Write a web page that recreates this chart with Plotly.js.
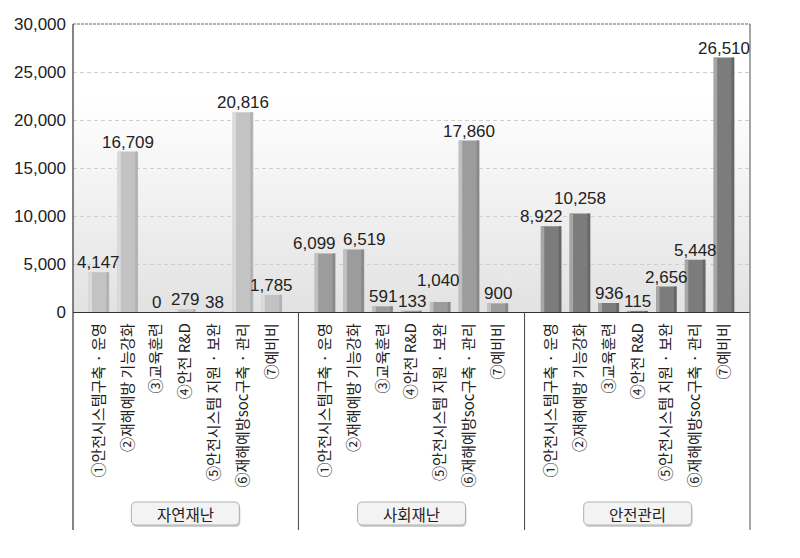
<!DOCTYPE html>
<html>
<head>
<meta charset="utf-8">
<script src="https://cdn.plot.ly/plotly-3.0.1.min.js"></script>
<style>html,body{margin:0;padding:0;background:#fff;}#chart{width:800px;height:558px;}</style>
</head>
<body>
<div id="chart"></div>
<script>
// ---- data ----
const categories = ['①안전시스템구축 · 운영', '②재해예방 기능강화', '③교육훈련', '④안전 R&D', '⑤안전시스템 지원 · 보완', '⑥재해예방soc구축 · 관리', '⑦예비비'];
const groups = ['자연재난', '사회재난', '안전관리'];
const naturalDisaster = [4147, 16709, 0, 279, 38, 20816, 1785];
const socialDisaster = [6099, 6519, 591, 133, 1040, 17860, 900];
const safetyManagement = [8922, 10258, 936, 115, 2656, 5448, 26510];
const yTicks = [0, 5000, 10000, 15000, 20000, 25000, 30000];

// ---- style ----
const series = [naturalDisaster, socialDisaster, safetyManagement];
const GROUP_STEP = 7.85;
const mainCol = ['#c3c3c3', '#9c9c9c', '#7c7c7c'];
const lightCol = ['#dadada', '#c0c0c0', '#a6a6a6'];
const darkCol = ['#b0b0b0', '#888888', '#666666'];
// label nudges (px) to mimic the original's overlap avoidance
const nudgeX = [[0,0,0,0,0,0,0],[-11,11,0,0,-2,0,0],[-10,0,0,0,0,0,0]];
const nudgeY = [[0,0,0,0,0,0,0],[0,0,0,0,12,0,0],[0,6,0,0,0,0,0]];

const xs = [], ys = [], cm = [], cl = [], cd = [], tv = [], tt = [];
const annotations = [];
series.forEach((vals, g) => {
  vals.forEach((v, i) => {
    const x = g * GROUP_STEP + i;
    xs.push(x); ys.push(v);
    cm.push(mainCol[g]); cl.push(lightCol[g]); cd.push(darkCol[g]);
    tv.push(x); tt.push(categories[i]);
    annotations.push({
      x: x, y: v, xref: 'x', yref: 'y', text: v.toLocaleString('en-US'),
      showarrow: false, yanchor: 'bottom', xanchor: 'center',
      xshift: nudgeX[g][i], yshift: nudgeY[g][i] - 2,
      font: {family: 'Liberation Sans, Arial, sans-serif', size: 17, color: '#222'}
    });
  });
});

const shapes = [];
const BOT = -0.757;
// group dividers
for (let g = 1; g < groups.length; g++) {
  const xd = g * GROUP_STEP - (GROUP_STEP - 6) / 2;
  shapes.push({type: 'line', xref: 'x', yref: 'paper', x0: xd, x1: xd, y0: 0, y1: BOT, line: {color: '#444', width: 1}});
}
// left & right frame, top dashed line
shapes.push({type: 'line', xref: 'paper', yref: 'paper', x0: 0, x1: 0, y0: 1, y1: BOT, line: {color: '#333', width: 1.2}});
shapes.push({type: 'line', xref: 'paper', yref: 'paper', x0: 1, x1: 1, y0: 1, y1: BOT, line: {color: '#888', width: 1.5}});
shapes.push({type: 'line', xref: 'paper', yref: 'paper', x0: 0, x1: 1, y0: 1, y1: 1, line: {color: '#666', width: 1, dash: '3px,1px'}});

// group label boxes
const rr = 'M -49,-11.5 L 49,-11.5 Q 54,-11.5 54,-6.5 L 54,6.5 Q 54,11.5 49,11.5 L -49,11.5 Q -54,11.5 -54,6.5 L -54,-6.5 Q -54,-11.5 -49,-11.5 Z';
const rrShadow = 'M -48,-13.5 L 50,-13.5 Q 55,-13.5 55,-8.5 L 55,4.5 Q 55,9.5 50,9.5 L -48,9.5 Q -53,9.5 -53,4.5 L -53,-8.5 Q -53,-13.5 -48,-13.5 Z';
groups.forEach((name, g) => {
  const xc = g * GROUP_STEP + 3;
  const yc = -0.6997;
  shapes.push({type: 'path', xref: 'x', yref: 'paper', xsizemode: 'pixel', ysizemode: 'pixel', xanchor: xc, yanchor: yc, path: rrShadow, fillcolor: '#cfcfcf', line: {width: 0}});
  shapes.push({type: 'path', xref: 'x', yref: 'paper', xsizemode: 'pixel', ysizemode: 'pixel', xanchor: xc, yanchor: yc, path: rr, fillcolor: '#f3f3f3', line: {color: '#b0b0b0', width: 1}});
  annotations.push({x: xc, y: yc, xref: 'x', yref: 'paper', text: name, showarrow: false, xanchor: 'center', yanchor: 'middle',
    font: {family: 'Noto Sans CJK KR, sans-serif', size: 15.5, color: '#222'}});
});

const svg = "<svg xmlns='http://www.w3.org/2000/svg' width='10' height='100' preserveAspectRatio='none'><defs><linearGradient id='g' x1='0' y1='0' x2='0' y2='1'><stop offset='0' stop-color='#ffffff'/><stop offset='0.25' stop-color='#ffffff'/><stop offset='1' stop-color='#e2e2e2'/></linearGradient></defs><rect width='10' height='100' fill='url(#g)'/></svg>";
const bgImg = 'data:image/svg+xml;charset=utf-8,' + encodeURIComponent(svg);

const traces = [
  {type: 'bar', x: xs, y: ys, width: 0.72, marker: {color: cm, line: {width: 0}}, hoverinfo: 'skip', cliponaxis: false},
  {type: 'bar', x: xs, y: ys, width: 0.12, offset: -0.36, marker: {color: cl, line: {width: 0}}, hoverinfo: 'skip'},
  {type: 'bar', x: xs, y: ys, width: 0.08, offset: 0.26, marker: {color: cd, line: {width: 0}}, hoverinfo: 'skip'}
];

const layout = {
  width: 800, height: 558,
  margin: {l: 73, r: 50, t: 24, b: 246, pad: 0},
  paper_bgcolor: '#ffffff', plot_bgcolor: 'rgba(0,0,0,0)',
  barmode: 'overlay', showlegend: false,
  images: [{source: bgImg, xref: 'paper', yref: 'paper', x: 0, y: 1, sizex: 1, sizey: 1, sizing: 'stretch', xanchor: 'left', yanchor: 'top', layer: 'below'}],
  xaxis: {
    range: [-0.9, 2 * GROUP_STEP + 6.9], tickmode: 'array', tickvals: tv, ticktext: tt, tickangle: -90,
    ticks: '', showgrid: false, zeroline: false, showline: true, linecolor: '#333', linewidth: 1.2,
    tickfont: {family: 'Noto Sans CJK KR, sans-serif', size: 15, color: '#222'}, ticklabelstandoff: 4, fixedrange: true
  },
  yaxis: {
    range: [0, 30000], tickmode: 'array', tickvals: yTicks, tickformat: ',', ticks: '',
    showgrid: true, gridcolor: '#cfcfcf', griddash: '4px,3px', gridwidth: 1, zeroline: false, showline: false,
    tickfont: {family: 'Liberation Sans, Arial, sans-serif', size: 17, color: '#222'}, ticklabelstandoff: 6, fixedrange: true
  },
  shapes: shapes,
  annotations: annotations
};

Plotly.newPlot('chart', traces, layout, {displayModeBar: false, staticPlot: true});
</script>
</body>
</html>
